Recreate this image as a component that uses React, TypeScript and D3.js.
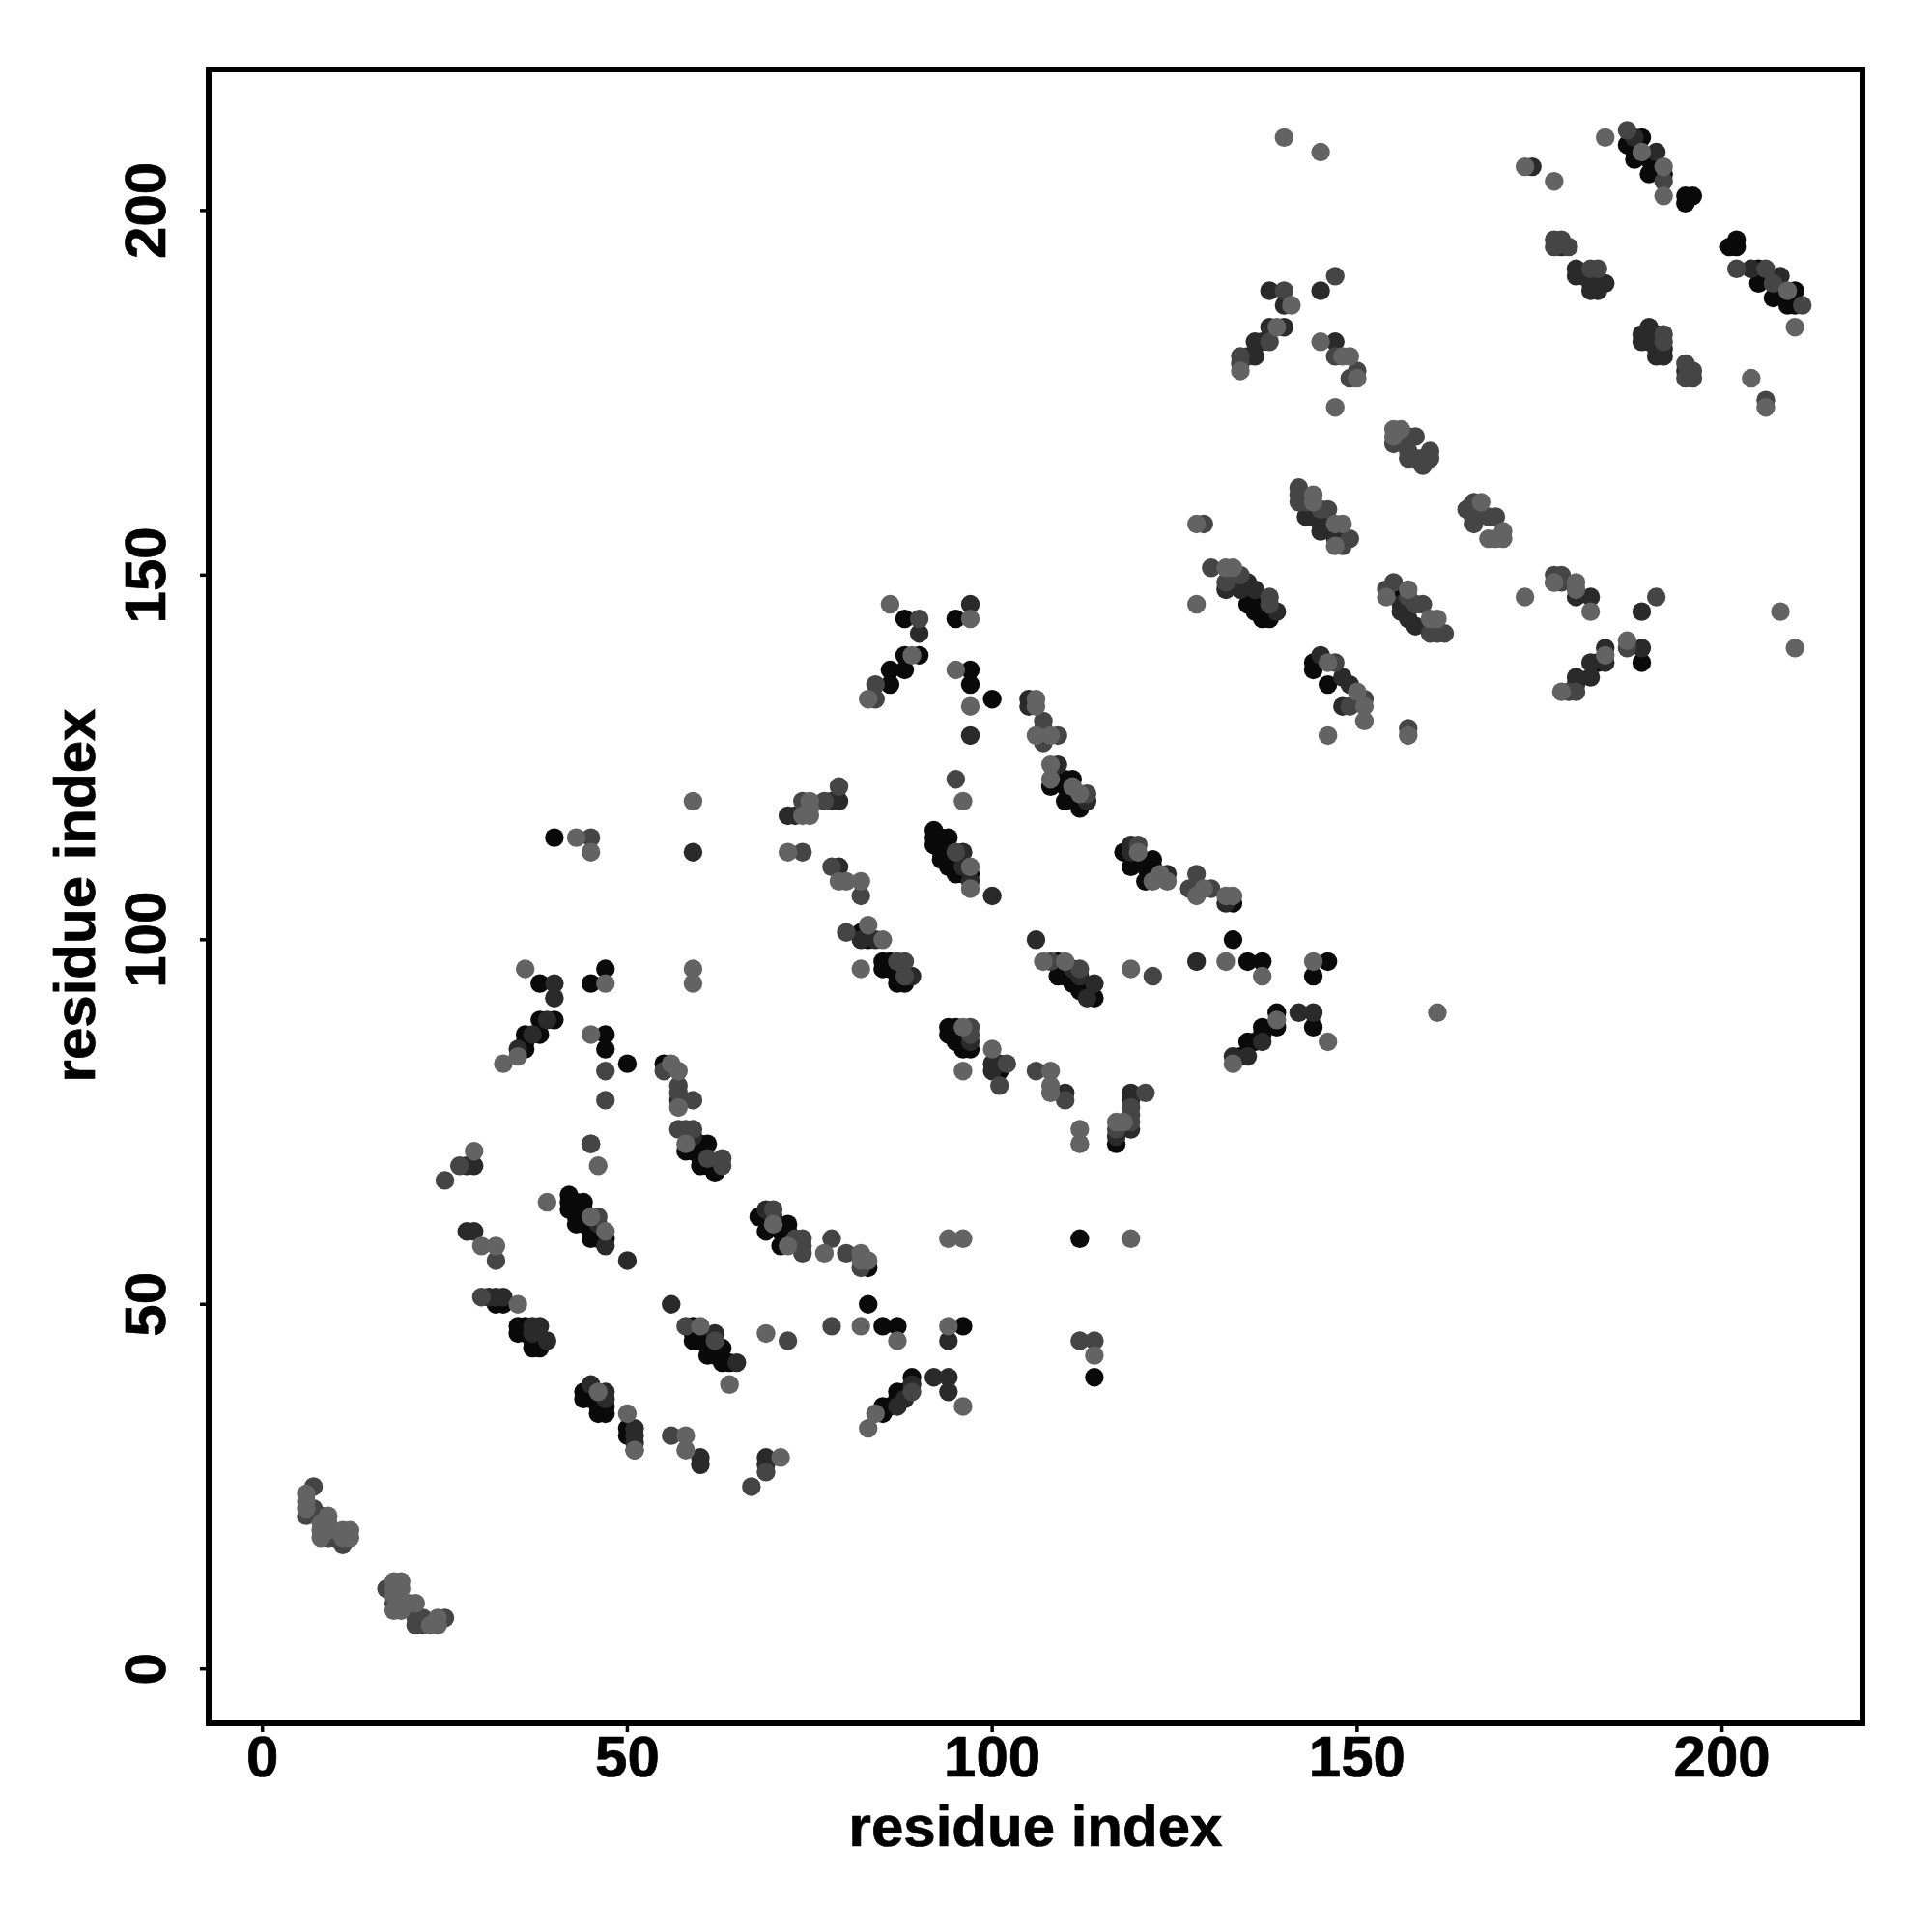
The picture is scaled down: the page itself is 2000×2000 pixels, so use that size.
import React from "react";
import * as d3 from "d3";

// Contacts [residue i, residue j], grouped by grey level.
const contactsBlack: number[][] = [
  [42,65],[42,64],[42,63],[43,64],[43,63],[43,62],[43,61],[44,64],[44,63],[44,62],[44,61],[45,61],[45,60],[45,59],[46,60],[46,59],[47,59],
  [32,50],[33,50],[35,47],[35,46],[36,47],[36,46],[37,44],[38,44],[38,45],[37,45],
  [59,47],[59,46],[59,45],[60,46],[60,45],[61,45],[61,43],[62,43],[63,44],[63,42],[64,42],[62,44],
  [83,50],[85,47],[87,47],
  [68,62],[69,60],[72,61],[71,60],[72,60],[71,58],[69,62],
  [44,38],[44,37],[46,35],[47,35],[45,37],[46,36],[47,36],[50,33],[50,32],
  [85,36],[85,35],[87,38],[87,37],[86,36],[88,38],[89,40],
  [83,55],[96,47],[114,40],[112,59],
  [40,114],[38,94],[47,96],[45,94],[40,89],[38,89],[36,87],[38,87],[36,85],[36,86],[47,87],[47,85],[50,83],
  [55,83],[58,71],[61,72],[60,72],[60,69],[62,68],[62,69],[59,71],[60,70],[61,69],
  [83,100],[82,101],[85,97],[85,96],[86,97],[86,96],[87,95],[87,94],[88,94],
  [92,115],[92,114],[92,113],[93,114],[94,114],[93,113],[93,112],[93,111],[95,109],[97,109],[94,112],[94,111],[94,110],[95,110],[96,109],
  [109,97],[109,95],[110,96],[110,95],[111,94],[112,93],[114,92],
  [94,88],[94,87],[97,85],[96,85],[95,86],[95,87],[95,88],[96,86],[101,82],
  [95,144],[88,144],[90,139],[88,139],[88,137],[86,137],[86,135],[97,137],[97,135],[100,133],
  [107,128],[108,121],[110,122],[111,122],[110,119],[112,118],[110,121],[111,120],[112,119],
  [118,112],[119,110],[122,111],[122,110],[121,110],[121,108],[133,105],[133,100],[135,97],[137,97],[146,97],[144,95],
  [144,88],[139,90],[139,88],[137,88],[135,86],[134,84],[136,86],[137,87],[117,72],
  [144,138],[144,137],[146,135],
  [189,210],[187,209],[188,208],[188,207],[190,205],[190,207],[192,205],[195,202],[196,202],[195,201],
  [202,195],[201,195],[202,196],[205,192],[205,190],[207,188],[210,189],[209,187],[210,187],
  [191,183],[135,146],[137,144],[138,144],[136,145],[137,146],[156,147],[183,138],[189,138],
];
const contactsDark: number[][] = [
  [28,69],[29,69],[46,61],[47,58],[50,56],[28,60],[29,60],[31,51],[32,51],[33,51],[37,47],[38,47],[39,45],[37,46],[56,50],[62,46],[65,42],
  [69,63],[70,62],[45,39],[47,38],[47,37],[51,33],[51,32],[51,31],[60,29],[60,28],[69,29],[69,28],
  [87,36],[88,37],[89,39],[92,40],[94,40],[94,38],[94,45],
  [59,112],[40,94],[40,92],[39,89],[37,87],[35,85],[57,78],[59,73],
  [79,119],[78,119],[72,117],[73,117],[79,110],[82,100],[84,100],[89,95],
  [96,112],[96,110],[97,108],[100,106],[106,100],[111,96],[112,95],[114,94],[113,92],
  [97,86],[100,83],[100,82],[101,83],[110,79],[97,146],[90,142],[97,128],[105,133],[105,132],
  [109,124],[113,119],[119,113],[119,112],[124,109],[132,105],[128,97],[142,90],[144,90],[137,86],[135,84],[133,84],
  [119,79],[119,78],[117,73],[119,74],[145,139],[148,136],[149,135],[148,132],
  [188,210],[191,208],[174,206],[178,195],[180,192],[180,191],[181,191],[182,189],[183,189],[184,190],[182,190],[183,190],
  [204,192],[208,191],[190,184],[189,183],[189,182],[191,180],[192,180],[192,181],[191,181],[190,182],[195,178],
  [145,189],[138,189],[140,187],[138,184],[140,184],[136,180],[135,180],[137,182],[136,182],[147,182],
  [143,158],[145,156],[147,155],[148,155],[145,157],[144,158],[132,148],[135,149],[136,148],[139,145],[134,148],[133,149],
  [156,146],[156,145],[158,143],[157,144],[180,147],[182,147],[189,145],[184,140],[184,138],[182,138],[182,136],[180,136],[180,135],[189,140],
];
const contactsMid: number[][] = [
  [27,69],[25,67],[45,72],[46,62],[32,56],[30,51],[58,47],[62,45],[72,45],[78,47],[78,59],[80,57],[82,55],[74,59],[73,59],[74,58],[74,57],[70,63],
  [51,30],[56,32],[69,27],[67,25],[89,38],[112,45],[114,45],
  [7,25],[6,21],[7,22],[8,21],[9,18],[10,18],[11,17],[17,11],[18,9],[19,9],[21,7],[21,6],[22,7],[22,6],[25,7],
  [45,114],[45,72],[47,82],[47,78],[57,80],[57,79],[59,78],[57,74],[58,74],[59,74],[61,70],[63,70],[63,69],[55,82],
  [79,121],[77,119],[74,119],[74,112],[78,110],[82,106],[80,101],[87,97],[88,97],[88,95],
  [95,112],[95,122],[108,97],[112,96],[97,88],[97,87],[102,83],[101,80],[106,82],[110,78],
  [90,144],[84,135],[84,133],[107,130],[107,129],[107,127],[109,128],[113,120],[120,113],[128,109],[127,107],[130,107],[122,95],
  [121,79],[119,77],[119,76],[119,75],[117,74],[147,138],[149,132],[151,133],[157,129],
  [187,211],[192,204],[177,196],[178,196],[177,195],[179,195],[182,192],[183,192],[202,192],[206,192],[207,190],[211,187],
  [192,183],[192,182],[195,179],[196,178],[195,177],[196,177],[206,174],
  [147,191],[140,189],[138,182],[134,180],[134,179],[147,180],[150,178],[149,177],
  [155,168],[157,169],[158,169],[157,167],[157,166],[159,165],[160,167],[160,166],[158,166],[159,166],
  [142,162],[142,161],[142,160],[143,160],[145,159],[146,159],[149,155],[148,154],
  [165,159],[166,160],[166,158],[166,157],[168,158],[169,158],[129,157],[130,151],[134,150],[132,149],[138,147],[138,146],
  [154,148],[155,149],[158,146],[159,146],[160,142],[161,142],[162,142],[157,147],
  [177,150],[178,150],[177,149],[178,149],[191,147],[187,140],[179,134],[180,134],
];
const contactsLight: number[][] = [
  [29,71],[46,69],[39,64],[47,60],[45,62],[30,58],[32,58],[35,50],[60,47],[64,39],[69,46],[82,47],[87,45],[77,57],[82,57],[83,56],[82,56],[72,58],[70,61],
  [46,38],[50,35],[51,30],[58,32],[58,30],[71,29],[83,33],[84,35],[96,36],[94,47],[114,43],[119,59],[94,59],[96,59],
  [6,24],[6,23],[6,22],[9,21],[9,20],[8,20],[8,19],[8,18],[9,19],[11,19],[12,19],[12,18],[11,18],
  [18,12],[19,12],[19,11],[18,11],[18,10],[18,8],[19,8],[20,9],[21,9],[23,6],[24,6],[24,7],
  [43,114],[45,112],[59,119],[59,96],[59,94],[36,96],[47,94],[35,84],[33,83],[45,87],
  [56,83],[57,82],[57,77],[58,72],[75,119],[75,118],[75,117],[74,117],[72,112],[79,108],[80,108],[82,108],[83,102],[85,100],[82,96],
  [96,119],[97,110],[97,107],[107,97],[110,97],[96,82],[96,88],[100,85],[108,82],[108,80],[108,79],[112,74],[112,72],
  [86,146],[97,144],[89,139],[83,133],[95,137],[97,132],[106,133],[106,132],[106,128],[108,128],[108,124],[108,122],[111,121],[112,120],
  [120,112],[123,109],[122,108],[124,108],[128,106],[129,107],[132,106],[133,106],[132,97],[137,95],[144,97],[161,90],[146,86],[139,89],[133,83],
  [117,75],[118,75],[119,96],[128,146],[173,147],[146,138],[150,134],[151,132],[151,130],[146,128],[157,128],
  [140,210],[145,208],[184,210],[189,208],[192,206],[192,202],[173,206],[177,204],[209,189],[210,184],[204,177],[206,173],
  [139,184],[134,178],[141,187],[145,182],[148,180],[149,180],[150,177],[147,173],
  [155,170],[156,170],[155,169],[144,161],[144,160],[147,157],[148,157],[147,154],
  [167,160],[168,155],[170,156],[170,155],[169,155],[128,157],[132,151],[133,151],
  [154,147],[157,148],[160,144],[161,144],[177,149],[180,149],[180,148],[182,145],[208,145],[210,140],[184,139],[178,134],[187,141],
];

const shadeGroups = [
  { points: contactsBlack, fill: "#0a0a0a" },
  { points: contactsDark, fill: "#2a2a2a" },
  { points: contactsMid, fill: "#454545" },
  { points: contactsLight, fill: "#636363" },
];
const tickValues = [0, 50, 100, 150, 200];
const axisTitle = "residue index";

export default function App() {
  const x = d3.scaleLinear().domain([0, 200]).range([271.7, 1782.6]);
  const y = d3.scaleLinear().domain([0, 200]).range([1727.7, 217.9]);
  const frame = { left: 216, right: 1928, top: 72, bottom: 1784 };
  const font = {
    fontFamily: "'Liberation Sans', Arial, sans-serif",
    fontWeight: 700,
    fill: "#000",
    stroke: "#000",
    strokeWidth: 0.7,
  };
  return (
    <svg width={2000} height={2000} style={{ position: "absolute", left: 0, top: 0, background: "#fff" }}>
      <g>
        {shadeGroups.map((g, gi) => (
          <g key={gi} fill={g.fill}>
            {g.points.map((p, i) => (
              <circle key={i} cx={x(p[0])} cy={y(p[1])} r={9.7} />
            ))}
          </g>
        ))}
      </g>
      <rect x={frame.left} y={frame.top} width={frame.right - frame.left} height={frame.bottom - frame.top} fill="none" stroke="#000" strokeWidth={6} />
      {tickValues.map((t) => (
        <g key={"x" + t}>
          <line x1={x(t)} x2={x(t)} y1={frame.bottom} y2={1793} stroke="#000" strokeWidth={3.5} />
          <text x={x(t)} y={1839} fontSize={60} textAnchor="middle" style={font}>{t}</text>
        </g>
      ))}
      {tickValues.map((t) => (
        <g key={"y" + t}>
          <line x1={207} x2={frame.left} y1={y(t)} y2={y(t)} stroke="#000" strokeWidth={3.5} />
          <text transform={`translate(170.5,${y(t)}) rotate(-90)`} fontSize={60} textAnchor="middle" style={font}>{t}</text>
        </g>
      ))}
      <text x={1072} y={1911} fontSize={60} textAnchor="middle" style={font}>{axisTitle}</text>
      <text transform="translate(98,927) rotate(-90)" fontSize={60} textAnchor="middle" style={font}>{axisTitle}</text>
    </svg>
  );
}
